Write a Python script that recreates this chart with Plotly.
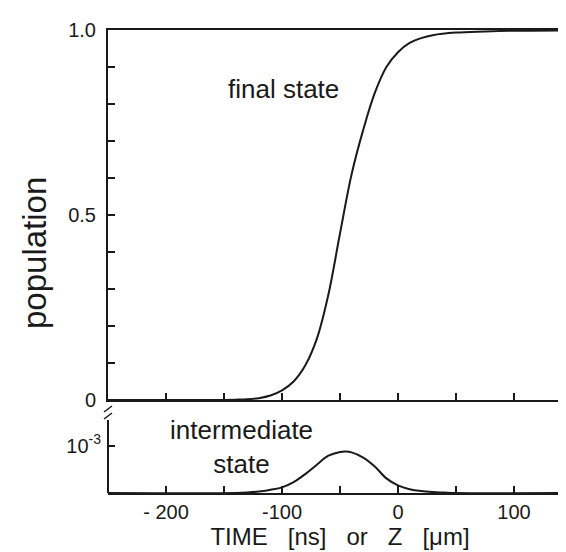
import plotly.graph_objects as go

FONT = "Liberation Sans, Arial, Helvetica, sans-serif"
INK = "#1a1a1a"

# ---- data ----
time_final = [-250, -160, -140, -130, -120, -110, -100, -90, -80, -70, -60, -50,
              -40, -30, -20, -10, 0, 10, 20, 30, 50, 75, 100, 150]
pop_final = [0, 0, 0.001, 0.002, 0.005, 0.012, 0.026, 0.05, 0.093, 0.165, 0.285, 0.45,
             0.61, 0.73, 0.83, 0.9, 0.94, 0.965, 0.978, 0.986, 0.993, 0.996, 0.998, 0.999]

time_inter = [-250, -140, -130, -120, -110, -100, -90, -80, -70, -60, -50, -45, -40,
              -30, -20, -10, 0, 10, 20, 30, 40, 50, 150]
pop_inter = [0, 0, 0.01e-3, 0.03e-3, 0.07e-3, 0.12e-3, 0.23e-3, 0.40e-3, 0.60e-3, 0.79e-3,
             0.87e-3, 0.88e-3, 0.86e-3, 0.75e-3, 0.56e-3, 0.31e-3, 0.16e-3, 0.08e-3,
             0.04e-3, 0.02e-3, 0.01e-3, 0, 0]

x_ticks = [-200, -100, 0, 100]
x_ticklabels = ["- 200", "-100", "0", "100"]
y_ticks = [0, 0.5, 1.0]
y_ticklabels = ["0", "0.5", "1.0"]
y2_ticks = [1e-3]
y2_ticklabels = ["10<sup>-3</sup>"]

# ---- layout geometry (pixels) ----
W, H = 566, 552
ML, MR, MT, MB = 100, 2, 22, 67
PW, PH = W - ML - MR, H - MT - MB
split = (H - MB - 392) / PH  # bottom panel fraction


def px_x(px):
    return (px - ML) / PW


def px_y(py):
    return (H - MB - py) / PH


fig = go.Figure()
fig.add_trace(go.Scatter(x=time_final, y=pop_final, mode="lines", line_shape="spline",
                         line=dict(color=INK, width=2), xaxis="x", yaxis="y",
                         showlegend=False))
fig.add_trace(go.Scatter(x=time_inter, y=pop_inter, mode="lines", line_shape="spline",
                         line=dict(color=INK, width=2), xaxis="x2", yaxis="y2",
                         showlegend=False))

axis_common = dict(showgrid=False, zeroline=False, linecolor=INK, linewidth=2,
                   ticks="inside", ticklen=7, tickwidth=1.5, tickcolor=INK,
                   automargin=False,
                   tickfont=dict(family=FONT, size=20, color=INK))
minor_x = dict(ticks="inside", tick0=0, dtick=50, ticklen=7, tickwidth=1.5, tickcolor=INK)
minor_y = dict(ticks="inside", tick0=0, dtick=0.1, ticklen=7, tickwidth=1.5, tickcolor=INK)

fig.update_layout(
    width=W, height=H,
    margin=dict(l=ML, r=MR, t=MT, b=MB, autoexpand=False),
    paper_bgcolor="white", plot_bgcolor="white",
    font=dict(family=FONT, color=INK),
    xaxis=dict(domain=[0, 1], anchor="y", range=[-250, 150], showline=True, mirror=True,
               tickvals=x_ticks, showticklabels=False, matches="x2", minor=minor_x,
               **axis_common),
    yaxis=dict(domain=[split, 1], anchor="x", range=[0, 1], showline=True, mirror=True,
               tickvals=y_ticks, ticktext=y_ticklabels, ticklabelstandoff=6,
               minor=minor_y, **axis_common),
    xaxis2=dict(domain=[0, 1], anchor="y2", range=[-250, 150], showline=True,
                tickvals=x_ticks, ticktext=x_ticklabels, minor=minor_x,
                title=dict(text="TIME\u00a0\u00a0\u00a0[ns]\u00a0\u00a0\u00a0or\u00a0\u00a0\u00a0Z\u00a0\u00a0\u00a0[μm]",
                           font=dict(family=FONT, size=24, color=INK), standoff=6),
                **axis_common),
    yaxis2=dict(domain=[0, split], anchor="x2", range=[0, 1.97e-3], showline=False,
                tickvals=y2_ticks, ticktext=y2_ticklabels, ticklabelstandoff=6,
                **axis_common),
)

# y-axis label
fig.add_annotation(text="population", xref="paper", yref="paper", x=px_x(27), y=px_y(245),
                   textangle=-90, showarrow=False, xanchor="center", yanchor="middle",
                   font=dict(family=FONT, size=33, color=INK))
fig.add_annotation(text="final state", xref="x", yref="y", x=-99, y=0.84,
                   showarrow=False, font=dict(family=FONT, size=26, color=INK))
fig.add_annotation(text="intermediate<br>state", xref="x2", yref="y2", x=-134.5, y=0.97e-3,
                   showarrow=False, font=dict(family=FONT, size=26, color=INK))

# bottom-panel side lines with axis break marks
shapes = []
for xp in (ML, W - MR):
    shapes.append(dict(type="line", xref="paper", yref="paper",
                       x0=px_x(xp), x1=px_x(xp), y0=px_y(412), y1=px_y(485),
                       line=dict(color=INK, width=2)))
    for yb in (401, 408):
        shapes.append(dict(type="line", xref="paper", yref="paper",
                           x0=px_x(xp - 4), x1=px_x(xp + 4), y0=px_y(yb + 3), y1=px_y(yb - 3),
                           line=dict(color=INK, width=1.5)))
fig.update_layout(shapes=shapes)

fig.write_html("out.html")
